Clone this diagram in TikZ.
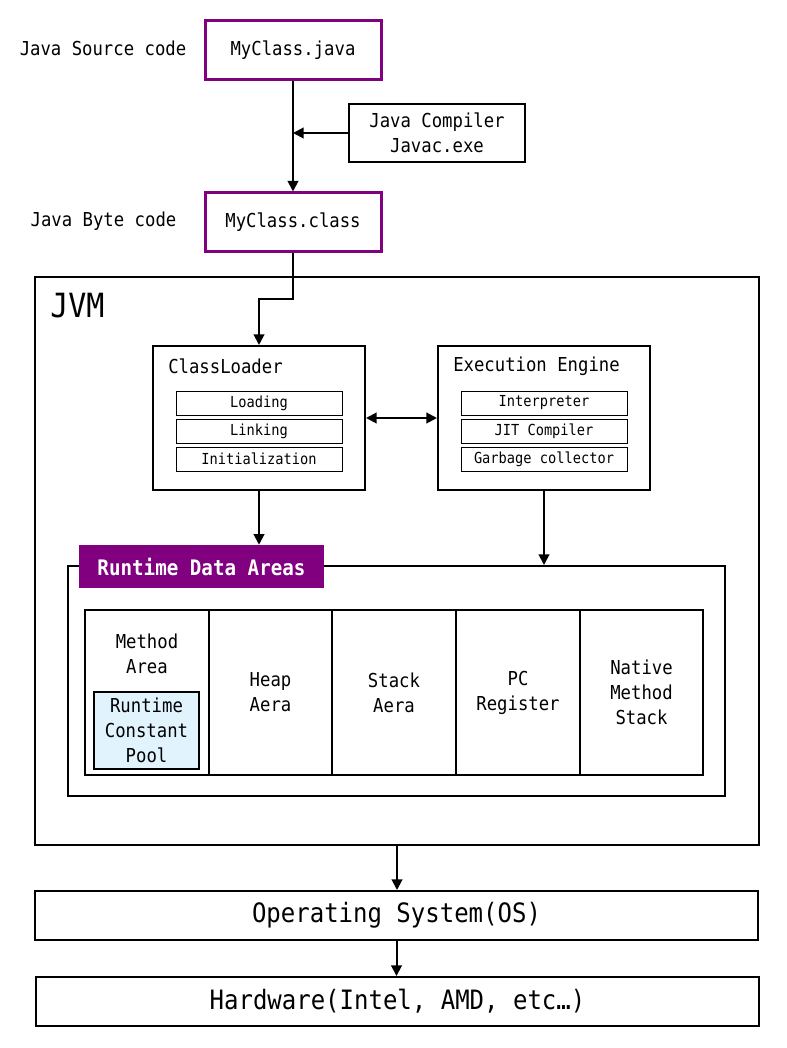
\documentclass[tikz,border=0pt]{standalone}
\usepackage{fontspec}
\setmainfont[FakeStretch=0.9]{DejaVu Sans Mono}
\usetikzlibrary{arrows.meta}
\definecolor{jvmpurple}{HTML}{800080}
\definecolor{poolblue}{HTML}{E1F4FE}

\begin{document}
\begin{tikzpicture}[x=0.75pt,y=-0.75pt]
                \useasboundingbox (0,0) rectangle (786,1048);
                \tikzstyle{txt}=[inner sep=0pt,align=center,font=\fontsize{14.4}{18.75}\selectfont]
                \tikzstyle{file}=[txt,draw=jvmpurple,line width=2.25pt,minimum width=132pt,minimum height=44.25pt]
                \tikzstyle{unit}=[txt,draw,line width=1.5pt,minimum width=159pt,minimum height=108pt]
                \tikzstyle{sub}=[draw,line width=0.75pt,inner sep=0pt,minimum width=124.5pt,minimum height=18pt,font=\fontsize{11.4}{14}\selectfont]
                \tikzstyle{cell}=[txt,draw,line width=1.5pt,minimum width=92.7pt,minimum height=123.75pt]
                \tikzstyle{layer}=[draw,line width=1.5pt,inner sep=0pt,minimum width=542.25pt,minimum height=36.75pt,font=\fontsize{20}{24}\selectfont]
                \tikzstyle{arr}=[line width=1.5pt,-{Triangle[length=8pt,width=8pt]}]
                \newcommand\subbox[4]{\node[sub] at (#1,#2) (#3) {#4};}
                \node[txt] at (103,48) (srclbl) {Java Source code};
                \node[file] at (293,50.5) (src) {MyClass.java};
                \node[txt,draw,line width=1.5pt,minimum width=132pt,minimum height=43.5pt] at (437,133) (comp) {Java Compiler\\Javac.exe};
                \node[txt] at (103.5,221) (clslbl) {Java Byte code};
                \node[file] at (293,222.5) (cls) {MyClass.class};
                \node[draw,line width=1.5pt,minimum width=543pt,minimum height=426pt] at (397,561) (jvm) {};
                \node[inner sep=0pt,anchor=west,font=\fontsize{25}{30}\selectfont] at (50,306) (jvmlbl) {JVM};
                \node[unit] at (259,418) (loader) {};
                \node[txt,anchor=west] at (168,366) (loadertitle) {ClassLoader};
                \subbox{259}{403}{load}{Loading};
                \subbox{259}{431}{link}{Linking};
                \subbox{259}{459}{init}{Initialization};
                \node[unit] at (544,418) (engine) {};
                \node[txt,anchor=west] at (453,366) (enginetitle) {Execution Engine};
                \subbox{544}{403}{interp}{Interpreter};
                \subbox{544}{431}{jit}{JIT Compiler};
                \subbox{544}{459}{gc}{Garbage collector};
                \node[draw,line width=1.5pt,minimum width=492.75pt,minimum height=172.5pt] at (396.5,681) (rda) {};
                \node[fill=jvmpurple,text=white,inner sep=0pt,minimum width=183.75pt,minimum height=32.25pt,font=\fontsize{16}{20}\bfseries] at (201.5,566.5) (rdalbl) {Runtime Data Areas};
                \node[cell] at (147,692.5) (method) {};
                \node[txt] at (147,653.5) (methodtxt) {Method\\Area};
                \node[txt,draw,line width=1.9pt,fill=poolblue,minimum width=78.75pt,minimum height=57.75pt] at (146.5,730.5) (pool) {Runtime\\Constant\\Pool};
                \node[cell] at (270.5,692.5) (heap) {Heap\\Aera};
                \node[cell] at (394,692.5) (stack) {Stack\\Aera};
                \node[cell] at (518,692.5) (pc) {PC\\Register};
                \node[cell] at (641.5,692.5) (native) {Native\\Method\\Stack};
                \node[layer] at (396.5,915.5) (os) {Operating System(OS)};
                \node[layer] at (397.5,1001.5) (hw) {Hardware(Intel, AMD, etc…)};
                \draw[arr] (src.south) -- (cls.north);
                \draw[arr] (comp.west) -- (comp.west -| src.south);
                \draw[arr] (cls.south) -- ++(0,46) -| (loader.north);
                \draw[line width=1.5pt,{Triangle[length=8pt,width=8pt]}-{Triangle[length=8pt,width=8pt]}] (loader.east) -- (engine.west);
                \draw[arr] (loader.south) -- (loader.south |- rdalbl.north);
                \draw[arr] (engine.south) -- (engine.south |- rda.north);
                \draw[arr] (jvm.south) -- (jvm.south |- os.north);
                \draw[arr] (os.south) -- (os.south |- hw.north);
            \end{tikzpicture}
\end{document}
